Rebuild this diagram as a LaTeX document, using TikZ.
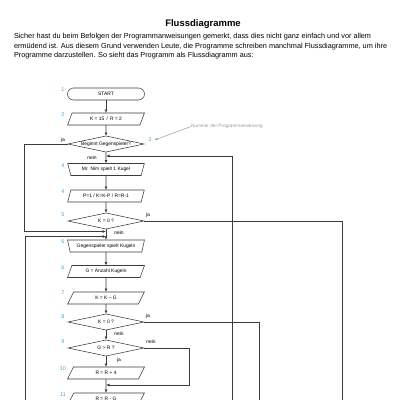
\documentclass[tikz,border=0pt]{standalone}
\usepackage{fontspec}
\setmainfont{Liberation Sans}
\usetikzlibrary{shapes.geometric,arrows.meta}
\definecolor{numcol}{RGB}{60,170,225}
\definecolor{linecol}{RGB}{60,60,60}
\begin{document}
\begin{tikzpicture}[x=1pt,y=-1pt,
  every node/.style={inner sep=0pt, outer sep=0pt},
  fl/.style={draw=linecol, line width=0.55pt, font=\fontsize{4.9}{5}\selectfont, text=black},
  term/.style={fl, rectangle, rounded corners=6pt, minimum width=77pt, minimum height=12pt},
  para/.style={fl, trapezium, trapezium left angle=60, trapezium right angle=120, trapezium stretches=true, minimum width=77pt, minimum height=12pt},
  manual/.style={fl, trapezium, trapezium left angle=115, trapezium right angle=115, trapezium stretches=true, minimum width=77pt, minimum height=12pt},
  dec/.style={fl, diamond, aspect=4.5, minimum width=76pt, minimum height=16pt},
  num/.style={text=numcol, font=\fontsize{5.5}{6}\selectfont},
  lbl/.style={font=\fontsize{5}{6}\selectfont},
  arr/.style={draw=linecol, line width=0.7pt, -{Latex[length=3.5pt,width=3pt]}},
  ln/.style={draw=linecol, line width=0.7pt},
  txt/.style={anchor=west, font=\fontsize{7.3}{8}\selectfont},
]
\useasboundingbox (0,0) rectangle (400,400);
\clip (0,0) rectangle (400,400);

\node[font=\bfseries\fontsize{9.5}{11}\selectfont] (title) at (203,24) {Flussdiagramme};
\node[txt] (p1) at (14,37) {Sicher hast du beim Befolgen der Programmanweisungen gemerkt, dass dies nicht ganz einfach und vor allem};
\node[txt] (p2) at (14,46.5) {ermüdend ist. Aus diesem Grund verwenden Leute, die Programme schreiben manchmal Flussdiagramme, um ihre};
\node[txt] (p3) at (14,56) {Programme darzustellen. So sieht das Programm als Flussdiagramm aus:};

% flowchart nodes
\node[term] (n1) at (106,94) {START};
\node[para] (n2) at (106,119) {K = 15 \,/\, R = 2};
\node[dec] (n3) at (106,144) {Beginnt Gegenspieler?};
\node[manual] (n4) at (106,169.5) {Mr. Nim spielt 1 Kugel};
\node[para] (n4b) at (106,196) {P=1 / K=K-P / R=R-1};
\node[dec] (n5) at (106,221) {K = 0 ?};
\node[manual] (n6) at (106,246) {Gegenspieler spielt Kugeln};
\node[para] (n6b) at (106,271.5) {G = Anzahl Kugeln};
\node[para] (n7) at (106,298) {K = K -- G};
\node[dec] (n8) at (106,322) {K = 0 ?};
\node[dec] (n9) at (106,348) {G > R ?};
\node[para] (n10) at (106,373) {R = R + 4};
\node[para] (n11) at (106,399) {R = R - G};

% numbers
\node[num] (k1) at (63,90) {1};
\node[num] (k2) at (63,115) {2};
\node[num] (k3) at (150,140) {3};
\node[num] (k4) at (63,166) {4};
\node[num] (k4b) at (63,192) {4};
\node[num] (k5) at (63,215) {5};
\node[num] (k6) at (63,242) {6};
\node[num] (k6b) at (63,268) {6};
\node[num] (k7) at (63,293) {7};
\node[num] (k8) at (63,317) {8};
\node[num] (k9) at (63,342) {9};
\node[num] (k10) at (63,369) {10};
\node[num] (k11) at (63,395) {11};

% annotation
\node[anchor=west, text=black!40, font=\fontsize{4.7}{5}\selectfont] (note) at (191,126.5) {Nummer der Programmanweisung};
\draw[black!40, line width=0.5pt, -{Latex[length=3pt,width=2.5pt]}] (note.west) -- ([xshift=3pt]k3.east);

% merge / free-end coordinates
\coordinate (m0) at (106,156);
\coordinate (m1) at (106,231.5);
\coordinate (m2) at (106,236.5);
\coordinate (m3) at (106,385);
\coordinate (bL) at (25,405);
\coordinate (bA) at (232,405);
\coordinate (bB) at (342,405);
\coordinate (bC) at (259,405);

% connectors
\draw[arr] (n1) -- (n2);
\draw[arr] (n2) -- (n3);
\draw[arr] (n3) -- (n4);
\draw[arr] (n4) -- (n4b);
\draw[arr] (n4b) -- (n5);
\draw[arr] (n5) -- (n6);
\draw[arr] (n6) -- (n6b);
\draw[arr] (n6b) -- (n7);
\draw[arr] (n7) -- (n8);
\draw[arr] (n8) -- (n9);
\draw[arr] (n9) -- (n10);
\draw[arr] (n10) -- (n11);
\draw[arr] (n3.west) -- ++(-44,0) |- (m1);
\draw[arr] (bL) |- (m2);
\draw[arr] (bA) |- (m0);
\draw[ln] (n5.east) -| (bB);
\draw[ln] (n8.east) -| (bC);
\draw[arr] (n9.east) -- ++(45,0) |- (m3);

% labels
\node[lbl] (ja3) at (63,140) {ja};
\node[lbl] (nein3) at (92,157.5) {nein};
\node[lbl] (ja5) at (148,215) {ja};
\node[lbl] (nein5) at (119,233) {nein};
\node[lbl] (ja8) at (148,316) {ja};
\node[lbl] (nein8) at (119,334) {nein};
\node[lbl] (nein9) at (151,342) {nein};
\node[lbl] (ja9) at (119,360) {ja};
\end{tikzpicture}
\end{document}
